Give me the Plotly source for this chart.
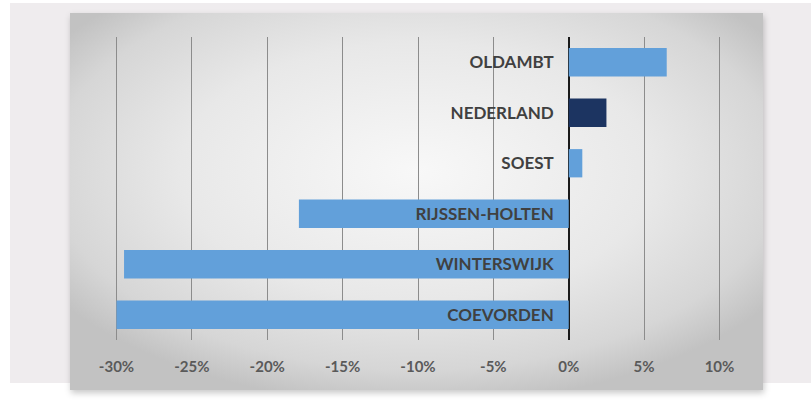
import base64
import plotly.graph_objects as go

# ---- data (bottom to top) ----
categories = ["COEVORDEN", "WINTERSWIJK", "RIJSSEN-HOLTEN", "SOEST", "NEDERLAND", "OLDAMBT"]
values = [-30.0, -29.5, -17.9, 0.9, 2.5, 6.5]
bar_colors = ["#62a0da", "#62a0da", "#62a0da", "#62a0da", "#1c3461", "#62a0da"]
tick_values = [-30, -25, -20, -15, -10, -5, 0, 5, 10]
tick_labels = ["-30%", "-25%", "-20%", "-15%", "-10%", "-5%", "0%", "5%", "10%"]

W, H = 811, 407
ML, MR, MT, MB = 115, 90, 37, 67
PW, PH = W - ML - MR, H - MT - MB
XMIN, XMAX = -30.1, 10.1

svg = f'''<svg xmlns="http://www.w3.org/2000/svg" width="{W}" height="{H}" viewBox="0 0 {W} {H}">
<defs>
<radialGradient id="g" cx="0.5" cy="0.42" r="0.62">
<stop offset="0" stop-color="#f8f8f8"/>
<stop offset="0.55" stop-color="#e8e8e8"/>
<stop offset="0.85" stop-color="#d6d6d6"/>
<stop offset="1" stop-color="#c2c2c2"/>
</radialGradient>
<filter id="s" x="-5%" y="-5%" width="110%" height="115%">
<feDropShadow dx="1" dy="3" stdDeviation="3" flood-color="#000" flood-opacity="0.22"/>
</filter>
</defs>
<rect width="{W}" height="{H}" fill="#ffffff"/>
<rect x="10" y="3" width="{W-10}" height="380" fill="#efecee"/>
<rect x="70" y="13" width="693" height="377" fill="url(#g)" filter="url(#s)"/>
</svg>'''
src = "data:image/svg+xml;base64," + base64.b64encode(svg.encode()).decode()

fig = go.Figure(
    go.Bar(
        x=values,
        y=categories,
        orientation="h",
        marker=dict(color=bar_colors, line=dict(width=0)),
        width=0.56,
        hoverinfo="skip",
    )
)

fig.update_layout(
    width=W,
    height=H,
    margin=dict(l=ML, r=MR, t=MT, b=MB, pad=0),
    paper_bgcolor="#ffffff",
    plot_bgcolor="rgba(0,0,0,0)",
    showlegend=False,
    images=[
        dict(
            source=src,
            xref="paper",
            yref="paper",
            x=-ML / PW,
            y=1 + MT / PH,
            sizex=W / PW,
            sizey=H / PH,
            xanchor="left",
            yanchor="top",
            sizing="stretch",
            layer="below",
        )
    ],
    xaxis=dict(
        range=[XMIN, XMAX],
        tickvals=tick_values,
        ticktext=tick_labels,
        showgrid=True,
        gridcolor="#8c8c8c",
        gridwidth=1,
        zeroline=True,
        zerolinecolor="#1a1a1a",
        zerolinewidth=2,
        showline=False,
        ticks="",
        ticklabelstandoff=16,
        tickfont=dict(family="Lato", size=15, color="#5a5a5a", weight="bold"),
        fixedrange=True,
    ),
    yaxis=dict(
        range=[-0.5, 5.5],
        anchor="free",
        position=(0 - XMIN) / (XMAX - XMIN),
        showgrid=False,
        zeroline=False,
        showline=False,
        ticks="",
        ticklabelstandoff=15,
        tickfont=dict(family="Lato", size=17, color="#404040", weight="bold"),
        fixedrange=True,
    ),
)

fig.write_html(
    "out.html",
    config={"displayModeBar": False},
    post_script="document.body.style.margin='0';document.body.style.overflow='hidden';",
)
